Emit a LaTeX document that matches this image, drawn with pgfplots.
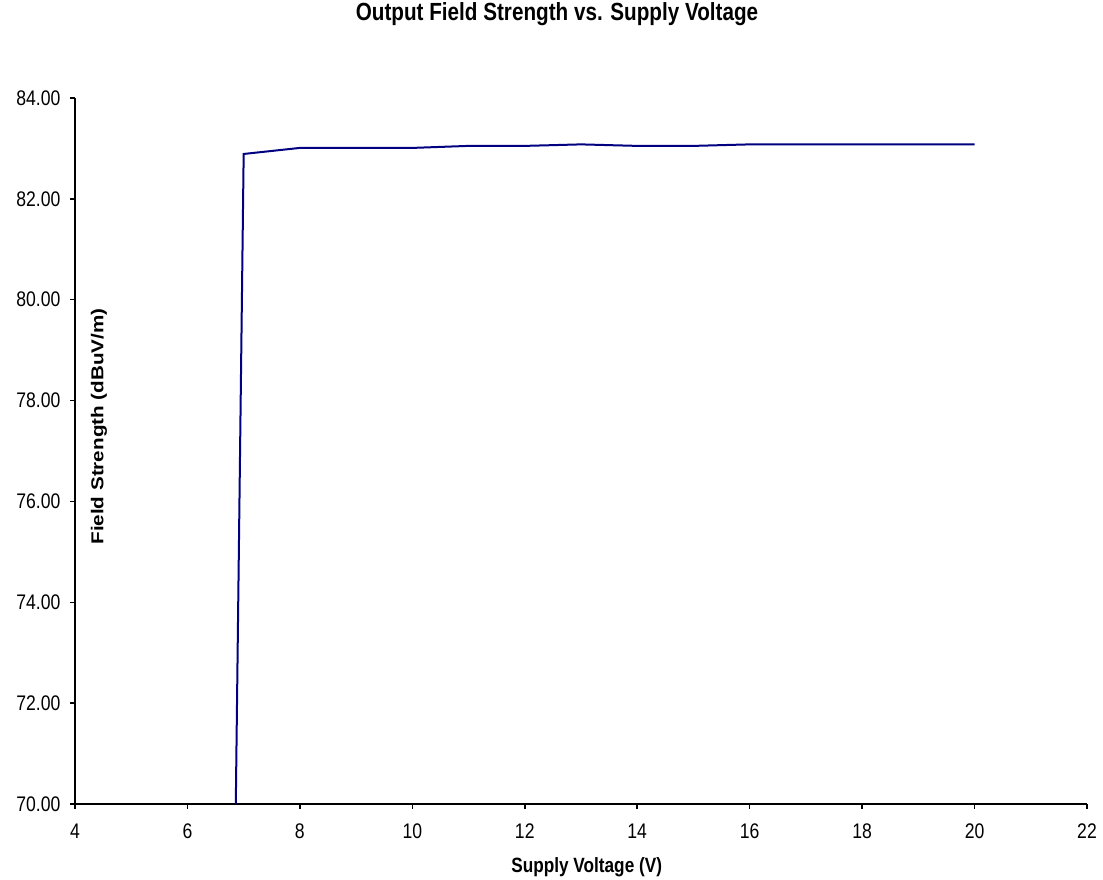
\documentclass[border=0pt]{standalone}
\usepackage{graphicx}
\usepackage{fontspec}
\setmainfont{Liberation Sans}
\usepackage{pgfplots}
\pgfplotsset{compat=1.18}

\definecolor{lineblue}{RGB}{0,0,128}
% the reference is stretched vertically a little
\newcommand{\vs}[1]{\scalebox{1}[1.2]{#1}}
\newcommand{\hs}[1]{\scalebox{1.2}[1]{#1}}

\begin{document}
\begin{tikzpicture}
\useasboundingbox (-56.25pt,-57pt) rectangle (771pt,603pt);
\begin{axis}[
    at={(0,0)}, anchor=south west,
    scale only axis,
    width=759pt, height=529.5pt,
    xmin=4, xmax=22, ymin=70, ymax=84,
    xtick={4,6,...,22},
    ytick={70,72,...,84},
    axis x line*=bottom,
    axis y line*=left,
    axis line style={-, line width=1.3pt, black},
    tick align=outside,
    major tick length=3.75pt,
    tick style={line width=1.1pt, black},
    /pgf/number format/assume math mode=true,
    yticklabel style={/pgf/number format/fixed, /pgf/number format/fixed zerofill,
        /pgf/number format/precision=2, font=\fontsize{13.2}{15}\selectfont,
        anchor=east, inner sep=0pt, xshift=-7pt},
    xticklabel style={font=\fontsize{13.2}{15}\selectfont, anchor=north,
        inner sep=0pt, yshift=-11pt},
    yticklabel={\vs{\pgfmathprintnumber{\tick}}},
    xticklabel={\vs{\pgfmathprintnumber{\tick}}},
    title={\vs{Output Field Strength vs. Supply Voltage}},
    title style={font=\bfseries\fontsize{15.5}{18}\selectfont,
        at={(rel axis cs:0.4763,1)}, anchor=center, yshift=56.6pt},
    xlabel={\vs{Supply Voltage (V)}},
    xlabel style={font=\bfseries\fontsize{12.9}{15}\selectfont,
        at={(rel axis cs:0.5056,0)}, anchor=center, yshift=-47.5pt},
    ylabel={\hs{Field Strength (dBuV/m)}},
    ylabel style={font=\bfseries\fontsize{12.9}{15}\selectfont,
        at={(rel axis cs:0,0.5347)}, anchor=center, yshift=-18pt},
]
\addplot[lineblue, line width=1.5pt, mark=none] coordinates {
    (6.86,70.00)
    (7,82.89)
    (8,83.01)
    (9,83.01)
    (10,83.01)
    (11,83.05)
    (12,83.05)
    (13,83.08)
    (14,83.05)
    (15,83.05)
    (16,83.08)
    (17,83.08)
    (18,83.08)
    (19,83.08)
    (20,83.08)
};
\end{axis}
\end{tikzpicture}
\end{document}
